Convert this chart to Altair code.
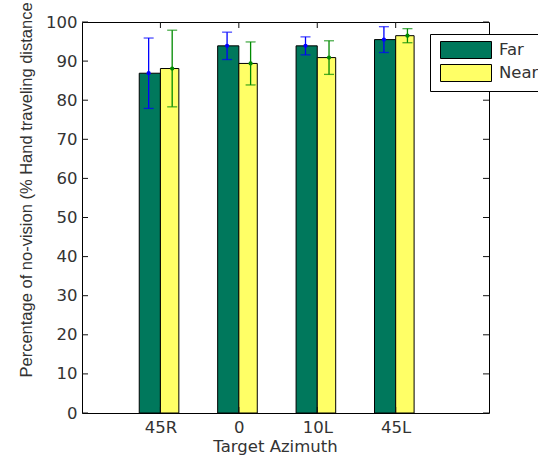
import altair as alt
import pandas as pd

# Mean percentage and standard deviation per target azimuth
categories = ["45R", "0", "10L", "45L"]
conditions = ["Far", "Near"]
far_mean = [86.9, 93.9, 93.9, 95.5]
far_sd = [9.0, 3.5, 2.3, 3.3]
near_mean = [88.1, 89.4, 90.9, 96.5]
near_sd = [9.8, 5.5, 4.3, 1.8]
y_ticks = [0, 10, 20, 30, 40, 50, 60, 70, 80, 90, 100]

bar_fill = {"Far": "#00785c", "Near": "#ffff66"}
err_color = {"Far": "#0000ff", "Near": "#008a00"}

# Grouped bar geometry in axis units (category k sits at x = k)
bar_span = {"Far": (-0.27, 0.0), "Near": (0.0, 0.235)}
err_offset = {"Far": -0.15, "Near": 0.15}

rows = []
for i, cat in enumerate(categories):
    k = i + 1
    for cond, means, sds in (("Far", far_mean, far_sd), ("Near", near_mean, near_sd)):
        m, s = means[i], sds[i]
        rows.append({
            "cat": cat, "pos": k, "cond": cond, "mean": m,
            "lo": m - s, "hi": m + s,
            "x0": k + bar_span[cond][0], "x1": k + bar_span[cond][1],
            "xe": k + err_offset[cond],
        })
df = pd.DataFrame(rows)
ticks_df = pd.DataFrame({"t": y_ticks})
cats_df = pd.DataFrame({"pos": list(range(1, len(categories) + 1))})

W, H = 407, 391
label_expr = "[''," + ",".join(f"'{c}'" for c in categories) + "][datum.value]"

wide_font = "DejaVu Sans"
narrow_font = "Liberation Sans"
text_color = "#333333"

xscale = alt.Scale(domain=[0, 5.19], nice=False, zero=False)
yscale = alt.Scale(domain=[0, 100], nice=False)

x_axis = alt.Axis(values=list(range(1, len(categories) + 1)), labelExpr=label_expr,
                  title="Target Azimuth", grid=False, domain=False, ticks=False,
                  labelPadding=6, titlePadding=3, titleX=193, labelOverlap=False)
y_axis = alt.Axis(values=y_ticks, title="Percentage of no-vision (% Hand traveling distance",
                  grid=False, domain=False, ticks=False, labelPadding=5, labelOverlap=False,
                  titleFont=narrow_font, titleFontSize=16.5,
                  titleAngle=270, titleAlign="left", titleBaseline="middle",
                  titleX=-56, titleY=355)


def X(field):
    return alt.X(field, type="quantitative", scale=xscale, axis=x_axis)


def Y(field):
    return alt.Y(field, type="quantitative", scale=yscale, axis=y_axis)


color = alt.Color("cond:N", scale=alt.Scale(domain=conditions,
                                            range=[bar_fill[c] for c in conditions]),
                  legend=alt.Legend(title=None))

bars = alt.Chart(df).mark_rect(stroke="black", strokeWidth=1).encode(
    x=X("x0"), x2="x1", y=Y("mean"), y2=alt.datum(0), color=color,
)

err_scale = alt.Scale(domain=conditions, range=[err_color[c] for c in conditions])
err_col = alt.Color("cond:N", scale=err_scale, legend=None)

err_rule = alt.Chart(df).mark_rule(strokeWidth=1.3).encode(
    x=X("xe"), y=Y("lo"), y2="hi",
    stroke=alt.Stroke("cond:N", scale=err_scale, legend=None),
)
cap_lo = alt.Chart(df).mark_tick(orient="horizontal", size=10, thickness=1.3).encode(
    x=X("xe"), y=Y("lo"), color=err_col,
)
cap_hi = alt.Chart(df).mark_tick(orient="horizontal", size=10, thickness=1.3).encode(
    x=X("xe"), y=Y("hi"), color=err_col,
)
dots = alt.Chart(df).mark_point(filled=True, size=18, opacity=1).encode(
    x=X("xe"), y=Y("mean"), color=err_col,
)

# Inward tick marks on all four sides of the box
tick_color = "#111111"
left_ticks = alt.Chart(ticks_df).mark_rule(color=tick_color).encode(
    y=Y("t"), x=alt.value(0), x2=alt.value(6))
right_ticks = alt.Chart(ticks_df).mark_rule(color=tick_color).encode(
    y=Y("t"), x=alt.value(W - 6), x2=alt.value(W))
top_ticks = alt.Chart(cats_df).mark_rule(color=tick_color).encode(
    x=X("pos"), y=alt.value(0), y2=alt.value(6))
bottom_ticks = alt.Chart(cats_df).mark_rule(color=tick_color).encode(
    x=X("pos"), y=alt.value(H - 6), y2=alt.value(H))

chart = alt.layer(
    bars, err_rule, cap_lo, cap_hi, dots,
    left_ticks, right_ticks, top_ticks, bottom_ticks,
).resolve_scale(color="independent").properties(
    width=W, height=H,
    autosize=alt.AutoSizeParams(type="none"),
    padding={"left": 82, "top": 22, "right": 49, "bottom": 50},
    background="white",
).configure_view(
    stroke="black", strokeWidth=1,
).configure_axis(
    labelFont=wide_font, titleFont=wide_font,
    labelFontSize=16.5, titleFontSize=16.5,
    labelColor=text_color, titleColor=text_color, titleFontWeight="normal",
).configure_legend(
    orient="none", legendX=348, legendY=12,
    fillColor="white", strokeColor="black", padding=7, cornerRadius=0,
    symbolType="M-3,-1H3V1H-3Z", symbolSize=289, symbolOffset=20,
    symbolStrokeColor="black", symbolStrokeWidth=1, symbolOpacity=1,
    labelFont=wide_font, labelFontSize=16.5, labelColor=text_color,
    labelOffset=24, rowPadding=1,
)

chart.save("out.html", embed_options={"renderer": "svg", "actions": False})
